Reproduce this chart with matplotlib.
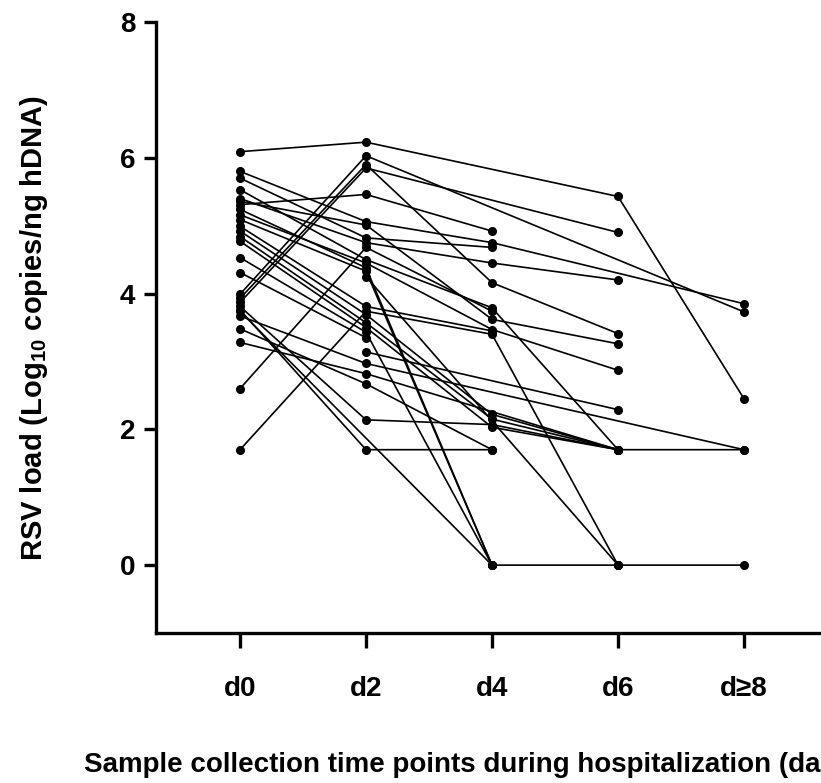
import numpy as np
import matplotlib
matplotlib.use("Agg")
import matplotlib.pyplot as plt

plt.rcParams['font.family'] = ['Liberation Sans', 'DejaVu Sans']
plt.rcParams['font.weight'] = 'bold'
plt.rcParams['mathtext.fontset'] = 'custom'
plt.rcParams['mathtext.rm'] = 'Liberation Sans:bold'
plt.rcParams['mathtext.bf'] = 'Liberation Sans:bold'

# Time points and RSV load (log10 copies/ng hDNA) per patient; nan = no sample
timepoints = ["d0", "d2", "d4", "d6", "d≥8"]
nan = np.nan
patients = [
    [6.09, 6.23, nan, 5.43, 2.45],
    [3.99, 6.03, nan, nan, 3.73],
    [3.87, 5.85, nan, 4.90, nan],
    [3.93, 5.90, 4.16, 3.41, nan],
    [5.31, 5.46, 4.92, nan, nan],
    [2.60, 4.68, 3.74, nan, nan],
    [1.70, 3.74, 3.40, 0.00, nan],
    [5.80, 5.06, 4.75, nan, 3.85],
    [5.70, 4.82, 4.68, nan, nan],
    [5.53, 4.50, 3.79, 1.70, nan],
    [5.40, 4.75, 4.45, 4.20, nan],
    [5.36, 5.01, 3.62, 3.26, nan],
    [5.24, 4.38, 0.00, 0.00, 0.00],
    [5.16, 4.45, 3.47, 2.87, nan],
    [5.09, 4.33, 0.00, nan, nan],
    [4.99, 3.81, 3.45, nan, nan],
    [4.92, 3.69, 2.22, 1.70, 1.70],
    [4.84, 3.57, 2.15, 1.70, nan],
    [4.77, 3.50, 2.03, 1.70, nan],
    [4.53, 3.43, 0.00, nan, nan],
    [4.31, 3.35, nan, nan, nan],
    [3.67, 2.97, nan, nan, 1.70],
    [3.48, 2.67, 1.70, nan, nan],
    [3.28, 2.82, nan, 1.70, nan],
    [3.74, nan, 0.00, nan, nan],
    [3.81, 2.14, 2.07, 1.70, nan],
    [3.76, 1.70, 1.70, nan, nan],
    [nan, 4.25, nan, 0.00, nan],
    [nan, 3.14, nan, 2.29, nan],
]
yticks = [0, 2, 4, 6, 8]

fig = plt.figure(figsize=(8.21, 7.83), dpi=100)
ax = fig.add_axes([156 / 821, 150 / 783, 714 / 821, 611 / 783])

x = np.arange(len(timepoints))
for p in patients:
    p = np.asarray(p, dtype=float)
    m = ~np.isnan(p)
    ax.plot(x[m], p[m], color='black', lw=1.2, marker='o', ms=5.5,
            mfc='black', mec='black', clip_on=False, zorder=3)

ax.set_xlim(-0.667, 5.0)
ax.set_ylim(-1, 8)
ax.set_xticks(x)
ax.set_xticklabels(timepoints)
ax.set_yticks(yticks)

for s in ['top', 'right']:
    ax.spines[s].set_visible(False)
for s in ['left', 'bottom']:
    ax.spines[s].set_linewidth(2.4)

ax.tick_params(axis='x', length=11, width=2.4, pad=20, labelsize=20)
ax.tick_params(axis='y', length=9, width=2.4, pad=6, labelsize=20)
for lab in ax.get_xticklabels() + ax.get_yticklabels():
    lab.set_fontweight('bold')

ax.set_ylabel(r'RSV load (Log$_{\mathbf{10}}$ copies/ng hDNA)', fontsize=21,
              fontweight='bold')
ax.yaxis.set_label_coords(-0.148, 0.5)
ax.set_xlabel('Sample collection time points during hospitalization (days)',
              fontsize=20, fontweight='bold', ha='left')
ax.xaxis.set_label_coords((84 - 156) / 714, -0.195)

fig.savefig('out.png', dpi=100)
